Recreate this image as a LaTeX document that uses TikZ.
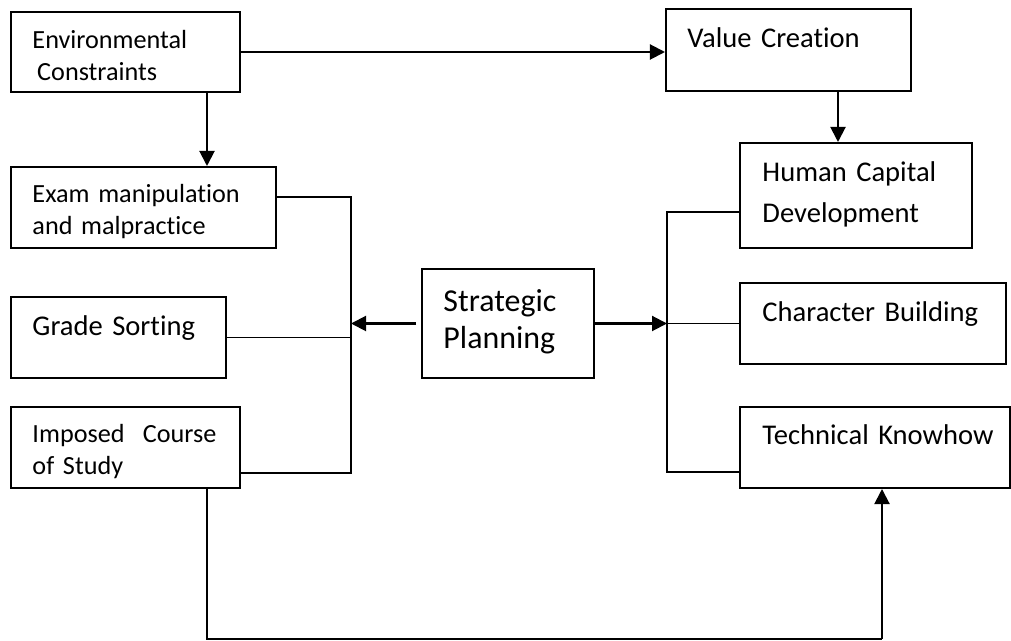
\documentclass[tikz,border=0pt]{standalone}
\usepackage{fontspec}
\setmainfont{Carlito}[Ligatures=NoCommon]
\usepackage{tikz}
\usetikzlibrary{arrows.meta,fit,calc}
\tikzset{bx/.style={draw, line width=0.85pt, inner sep=0pt, rectangle}}
\tikzset{ln/.style={draw, line width=0.6pt}}
\tikzset{ar/.style={draw, line width=0.85pt, -{Triangle[length=6.3pt,width=6.3pt]}}}
\tikzset{tx/.style={inner sep=0pt, anchor=base west, text width=6cm, align=left}}
\tikzset{sm/.style={tx, font=\fontsize{11}{13.3}\selectfont}}
\tikzset{md/.style={tx, font=\fontsize{12}{17.2}\selectfont}}
\tikzset{lg/.style={tx, font=\fontsize{13.4}{15.5}\selectfont}}

\begin{document}
\begin{tikzpicture}[x=0.42pt, y=-0.42pt]
        \useasboundingbox (0,0) rectangle (1011,641);
        %% boxes
        \node (env) [bx, fit={(11,12) (240,92)}] {};
        \node (val) [bx, fit={(666,9) (911,91)}] {};
        \node (exam) [bx, fit={(11,167) (276,248)}] {};
        \node (hc) [bx, fit={(740,143) (972,248)}] {};
        \node (grade) [bx, fit={(11,297) (226,378)}] {};
        \node (strat) [bx, fit={(422,269) (594,378)}] {};
        \node (chr) [bx, fit={(740,283) (1006,364)}] {};
        \node (imp) [bx, fit={(11,407) (240,488)}] {};
        \node (tech) [bx, fit={(740,407) (1010,488)}] {};
        %% texts
        \node (envt) at (32,49) [sm] {Environmental\\\hspace*{2pt}Constraints};
        \node (valt) at (687,48) [md] {Value Creation};
        \node (examt) at (32,203) [sm] {Exam manipulation\\and malpractice};
        \node (hct) at (762,182) [md] {Human Capital\\Development};
        \node (gradet) at (32,336) [md] {Grade Sorting};
        \node (stratt) at (443,312) [lg] {Strategic\\Planning};
        \node (chrt) at (762,322) [md] {Character Building};
        \node (impt) at (32,443) [sm] {Imposed\hspace{4pt} Course\\of Study};
        \node (techt) at (762,445) [md] {Technical Knowhow};
        %% junctions
        \coordinate (lx) at (207,0);
        \coordinate (rx) at (838,0);
        \coordinate (lb) at (351,323);
        \coordinate (rb) at (667,323);
        \coordinate (bot) at (882,639);
        %% connectors
        \draw [ar] (env.east) -- (env.east -| val.west);
        \draw [ar] (env.south -| lx) -- (exam.north -| lx);
        \draw [ar] (val.south -| rx) -- (hc.north -| rx);
        \draw [ln] (exam.east |- 0,197) -| (lb) |- (imp.east |- 0,473);
        \draw [ln] (grade.east) -- (grade.east -| lb);
        \draw [ar, shorten <=2pt] (strat.west) -- (strat.west -| lb);
        \draw [ln] (hc.west |- 0,212) -| (rb) |- (tech.west |- 0,472);
        \draw [ar] (strat.east) -- (strat.east -| rb);
        \draw [ln] (rb |- chr.west) -- (chr.west);
        \draw [ln] (imp.south -| lx) |- (bot);
        \draw [ar] (bot) -- (tech.south -| bot);
\end{tikzpicture}
\end{document}
